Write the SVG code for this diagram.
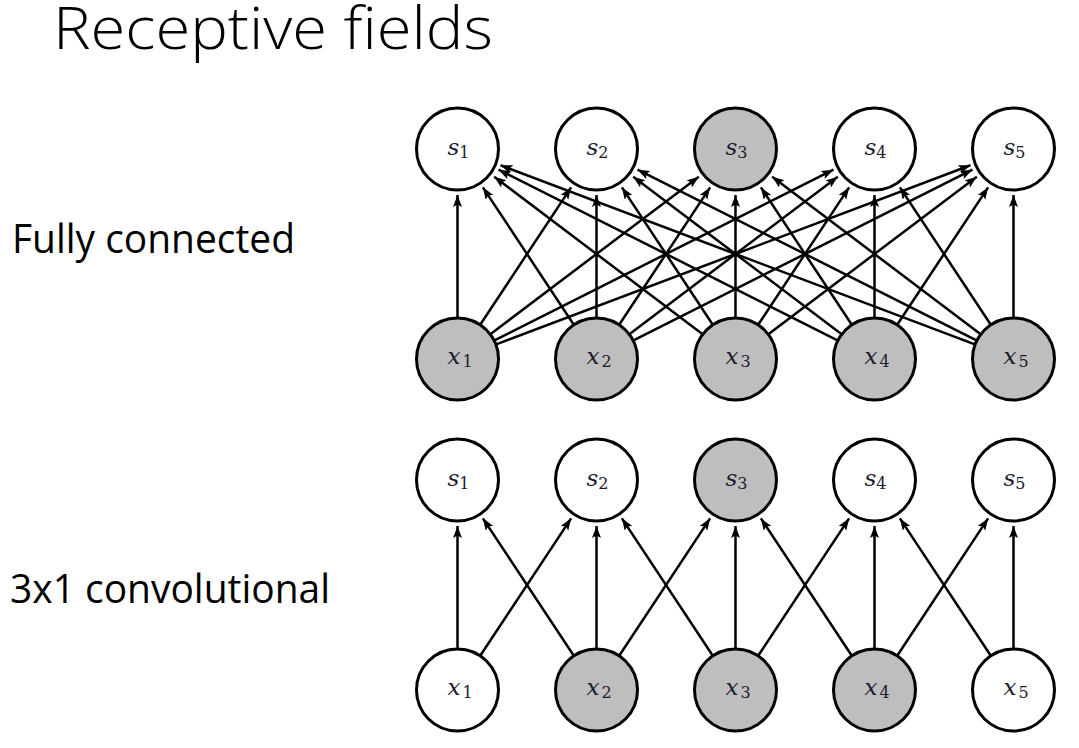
<svg xmlns="http://www.w3.org/2000/svg" width="1079" height="748" viewBox="0 0 1079 748">
<style>
.title{font-family:"Open Sans","Liberation Sans",sans-serif;font-weight:300;font-size:59px;fill:#000}
.lbl{font-family:"Open Sans","Liberation Sans",sans-serif;font-size:40px;fill:#000}
.node circle{stroke:#000;stroke-width:3}
.w{fill:#fff}
.g{fill:#bebebe}
.m{font-family:"DejaVu Serif",serif;font-style:italic;font-size:23px;fill:#1c1c30;text-anchor:middle}
.sub{font-family:"DejaVu Serif",serif;font-style:normal;font-size:16px}
#edges line{stroke:#000;stroke-width:2.5;marker-end:url(#arr)}
</style>
<defs>
<marker id="arr" markerUnits="userSpaceOnUse" markerWidth="13" markerHeight="10" refX="12" refY="4.5" orient="auto">
<path d="M0,0 L12,4.5 L0,9 L2.5,4.5 z" fill="#000"/>
</marker>
</defs>
<rect width="1079" height="748" fill="#fff"/>
<text class="title" x="53" y="49" textLength="440" lengthAdjust="spacingAndGlyphs">Receptive fields</text>
<text class="lbl" x="12" y="253" textLength="283" lengthAdjust="spacingAndGlyphs">Fully connected</text>
<text class="lbl" x="10" y="603" textLength="320" lengthAdjust="spacingAndGlyphs">3x1 convolutional</text>

<g id="edges">
<!-- fully connected -->
<line x1="457.5" y1="317" x2="457.5" y2="195"/>
<line x1="480.68" y1="323.98" x2="571.11" y2="187.36"/>
<line x1="491.01" y1="333.68" x2="698.8" y2="176.73"/>
<line x1="495.01" y1="340.11" x2="833.42" y2="169.69"/>
<line x1="496.79" y1="344.16" x2="970.47" y2="165.25"/>
<line x1="573.32" y1="323.98" x2="482.89" y2="187.36"/>
<line x1="596.5" y1="317" x2="596.5" y2="195"/>
<line x1="619.68" y1="323.98" x2="710.11" y2="187.36"/>
<line x1="630.01" y1="333.68" x2="837.8" y2="176.73"/>
<line x1="634.01" y1="340.11" x2="972.42" y2="169.69"/>
<line x1="701.99" y1="333.68" x2="494.2" y2="176.73"/>
<line x1="712.32" y1="323.98" x2="621.89" y2="187.36"/>
<line x1="735.5" y1="317" x2="735.5" y2="195"/>
<line x1="758.68" y1="323.98" x2="849.11" y2="187.36"/>
<line x1="769.01" y1="333.68" x2="976.8" y2="176.73"/>
<line x1="836.99" y1="340.11" x2="498.58" y2="169.69"/>
<line x1="840.99" y1="333.68" x2="633.2" y2="176.73"/>
<line x1="851.32" y1="323.98" x2="760.89" y2="187.36"/>
<line x1="874.5" y1="317" x2="874.5" y2="195"/>
<line x1="897.68" y1="323.98" x2="988.11" y2="187.36"/>
<line x1="974.21" y1="344.16" x2="500.53" y2="165.25"/>
<line x1="975.99" y1="340.11" x2="637.58" y2="169.69"/>
<line x1="979.99" y1="333.68" x2="772.2" y2="176.73"/>
<line x1="990.32" y1="323.98" x2="899.89" y2="187.36"/>
<line x1="1013.5" y1="317" x2="1013.5" y2="195"/>
<!-- convolutional -->
<line x1="457.5" y1="648" x2="457.5" y2="526"/>
<line x1="480.68" y1="654.98" x2="571.11" y2="518.36"/>
<line x1="573.32" y1="654.98" x2="482.89" y2="518.36"/>
<line x1="596.5" y1="648" x2="596.5" y2="526"/>
<line x1="619.68" y1="654.98" x2="710.11" y2="518.36"/>
<line x1="712.32" y1="654.98" x2="621.89" y2="518.36"/>
<line x1="735.5" y1="648" x2="735.5" y2="526"/>
<line x1="758.68" y1="654.98" x2="849.11" y2="518.36"/>
<line x1="851.32" y1="654.98" x2="760.89" y2="518.36"/>
<line x1="874.5" y1="648" x2="874.5" y2="526"/>
<line x1="897.68" y1="654.98" x2="988.11" y2="518.36"/>
<line x1="990.32" y1="654.98" x2="899.89" y2="518.36"/>
<line x1="1013.5" y1="648" x2="1013.5" y2="526"/>
</g>

<!-- fully connected: outputs -->
<g id="fc-s1" class="node"><circle class="w" cx="457.5" cy="149" r="41"/><text class="m" x="458.5" y="155">s<tspan class="sub" dy="3">1</tspan></text></g>
<g id="fc-s2" class="node"><circle class="w" cx="596.5" cy="149" r="41"/><text class="m" x="597.5" y="155">s<tspan class="sub" dy="3">2</tspan></text></g>
<g id="fc-s3" class="node"><circle class="g" cx="735.5" cy="149" r="41"/><text class="m" x="736.5" y="155">s<tspan class="sub" dy="3">3</tspan></text></g>
<g id="fc-s4" class="node"><circle class="w" cx="874.5" cy="149" r="41"/><text class="m" x="875.5" y="155">s<tspan class="sub" dy="3">4</tspan></text></g>
<g id="fc-s5" class="node"><circle class="w" cx="1013.5" cy="149" r="41"/><text class="m" x="1014.5" y="155">s<tspan class="sub" dy="3">5</tspan></text></g>
<!-- fully connected: inputs -->
<g id="fc-x1" class="node"><circle class="g" cx="457.5" cy="359" r="41"/><text class="m" x="460" y="364">x<tspan class="sub" dx="2" dy="3">1</tspan></text></g>
<g id="fc-x2" class="node"><circle class="g" cx="596.5" cy="359" r="41"/><text class="m" x="599" y="364">x<tspan class="sub" dx="2" dy="3">2</tspan></text></g>
<g id="fc-x3" class="node"><circle class="g" cx="735.5" cy="359" r="41"/><text class="m" x="738" y="364">x<tspan class="sub" dx="2" dy="3">3</tspan></text></g>
<g id="fc-x4" class="node"><circle class="g" cx="874.5" cy="359" r="41"/><text class="m" x="877" y="364">x<tspan class="sub" dx="2" dy="3">4</tspan></text></g>
<g id="fc-x5" class="node"><circle class="g" cx="1013.5" cy="359" r="41"/><text class="m" x="1016" y="364">x<tspan class="sub" dx="2" dy="3">5</tspan></text></g>
<!-- convolutional: outputs -->
<g id="cv-s1" class="node"><circle class="w" cx="457.5" cy="480" r="41"/><text class="m" x="458.5" y="486">s<tspan class="sub" dy="3">1</tspan></text></g>
<g id="cv-s2" class="node"><circle class="w" cx="596.5" cy="480" r="41"/><text class="m" x="597.5" y="486">s<tspan class="sub" dy="3">2</tspan></text></g>
<g id="cv-s3" class="node"><circle class="g" cx="735.5" cy="480" r="41"/><text class="m" x="736.5" y="486">s<tspan class="sub" dy="3">3</tspan></text></g>
<g id="cv-s4" class="node"><circle class="w" cx="874.5" cy="480" r="41"/><text class="m" x="875.5" y="486">s<tspan class="sub" dy="3">4</tspan></text></g>
<g id="cv-s5" class="node"><circle class="w" cx="1013.5" cy="480" r="41"/><text class="m" x="1014.5" y="486">s<tspan class="sub" dy="3">5</tspan></text></g>
<!-- convolutional: inputs -->
<g id="cv-x1" class="node"><circle class="w" cx="457.5" cy="690" r="41"/><text class="m" x="460" y="695">x<tspan class="sub" dx="2" dy="3">1</tspan></text></g>
<g id="cv-x2" class="node"><circle class="g" cx="596.5" cy="690" r="41"/><text class="m" x="599" y="695">x<tspan class="sub" dx="2" dy="3">2</tspan></text></g>
<g id="cv-x3" class="node"><circle class="g" cx="735.5" cy="690" r="41"/><text class="m" x="738" y="695">x<tspan class="sub" dx="2" dy="3">3</tspan></text></g>
<g id="cv-x4" class="node"><circle class="g" cx="874.5" cy="690" r="41"/><text class="m" x="877" y="695">x<tspan class="sub" dx="2" dy="3">4</tspan></text></g>
<g id="cv-x5" class="node"><circle class="w" cx="1013.5" cy="690" r="41"/><text class="m" x="1016" y="695">x<tspan class="sub" dx="2" dy="3">5</tspan></text></g>
</svg>
